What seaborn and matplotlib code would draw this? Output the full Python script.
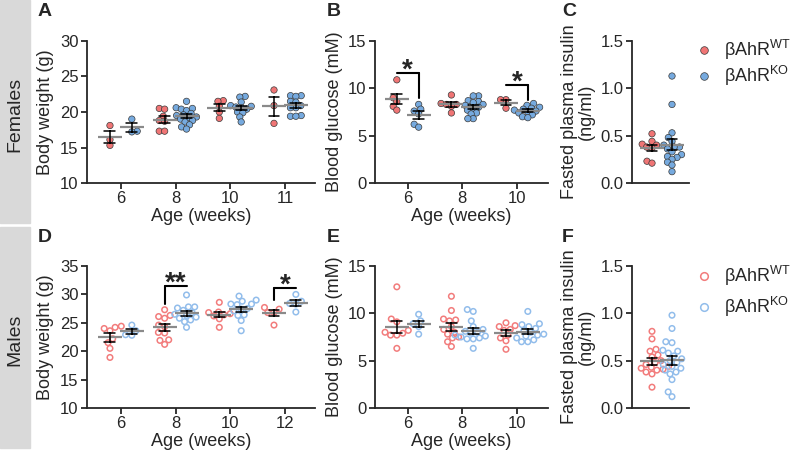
import pandas as pd
import matplotlib
matplotlib.use('Agg')
import matplotlib.pyplot as plt
import seaborn as sns
from matplotlib.lines import Line2D
from matplotlib.patches import Rectangle

# ---------------- data ----------------
fem_bw_weeks = ['6', '8', '10', '11']
fem_bw_wt = [[18.1, 16.1, 15.3],
             [20.5, 20.4, 19.4, 18.8, 18.7, 17.3, 17.3],
             [21.6, 21.5, 20.8, 20.0, 19.1],
             [23.1, 20.9, 18.4]]
fem_bw_ko = [[19.0, 17.3, 17.2],
             [21.5, 20.6, 20.5, 20.4, 20.2, 19.8, 19.6, 19.5, 19.3, 19.2, 19.0, 18.8, 18.6, 18.2, 17.9, 17.6],
             [22.2, 22.1, 21.4, 20.9, 20.8, 20.7, 20.6, 20.4, 20.0, 19.9, 19.3, 18.6],
             [22.3, 22.3, 22.2, 21.5, 21.4, 20.9, 20.6, 20.6, 19.5, 19.4, 19.4]]

fem_bg_weeks = ['6', '8', '10']
fem_bg_wt = [[10.9, 9.0, 8.6, 8.1, 7.7],
             [9.3, 8.4, 8.3, 8.3, 8.1, 7.4],
             [8.8, 8.8, 7.9]]
fem_bg_ko = [[8.3, 7.8, 7.6, 7.3, 6.2, 5.9],
             [9.2, 9.2, 8.7, 8.6, 8.5, 8.3, 8.2, 8.0, 7.9, 7.7, 7.4, 7.3, 6.8, 6.8],
             [8.4, 8.2, 8.0, 7.9, 7.8, 7.7, 7.6, 7.5, 7.4, 7.2, 7.0, 6.9]]

fem_ins_wt = [0.52, 0.44, 0.41, 0.40, 0.38, 0.37, 0.23, 0.21]
fem_ins_ko = [1.13, 0.83, 0.53, 0.48, 0.44, 0.40, 0.38, 0.38, 0.36, 0.33, 0.30,
              0.28, 0.27, 0.25, 0.22, 0.19, 0.12]

male_bw_weeks = ['6', '8', '10', '12']
male_bw_wt = [[24.4, 24.2, 24.0, 23.6, 22.2, 21.5, 20.5, 18.9],
              [27.3, 26.3, 26.1, 25.8, 24.6, 24.3, 23.3, 23.2, 22.0, 21.9, 21.2],
              [28.6, 26.9, 26.8, 26.6, 26.4, 26.2, 25.7, 24.2],
              [27.7, 27.4, 26.8, 26.8, 24.6]]
male_bw_ko = [[24.6, 23.6, 22.9, 22.8],
              [29.9, 27.8, 27.8, 27.6, 27.2, 26.8, 26.5, 26.3, 26.0, 25.8, 25.5, 25.2, 24.2],
              [29.7, 29.0, 28.8, 28.3, 28.3, 28.2, 27.5, 27.4, 27.1, 26.4, 26.3, 25.4, 23.6],
              [30.0, 28.8, 28.4, 28.3, 26.9]]

male_bg_weeks = ['6', '8', '10']
male_bg_wt = [[12.8, 9.4, 9.1, 8.2, 8.0, 7.9, 7.7, 7.7, 6.3],
              [11.8, 10.3, 9.4, 9.3, 9.2, 8.6, 8.3, 8.0, 7.8, 7.5, 7.4, 7.0, 6.5],
              [9.0, 8.7, 8.6, 8.3, 8.2, 7.7, 7.4, 7.1, 6.2]]
male_bg_ko = [[9.9, 9.2, 8.9, 8.6, 7.8],
              [10.4, 10.2, 9.2, 8.6, 8.3, 8.1, 8.0, 7.9, 7.7, 7.6, 7.5, 7.4, 7.3, 7.3, 6.3],
              [10.2, 8.9, 8.8, 8.6, 8.4, 8.2, 8.0, 7.8, 7.7, 7.6, 7.4, 7.2, 7.0, 7.0]]

male_ins_wt = [0.81, 0.73, 0.62, 0.60, 0.56, 0.54, 0.50, 0.48, 0.46, 0.44, 0.43,
               0.42, 0.41, 0.40, 0.38, 0.36, 0.22]
male_ins_ko = [0.98, 0.84, 0.70, 0.69, 0.61, 0.60, 0.58, 0.55, 0.52, 0.50, 0.48,
               0.46, 0.44, 0.42, 0.40, 0.38, 0.36, 0.30, 0.17, 0.12]

# significance brackets: (category index, bracket top, drop end, label, side of drop)
sig_fem_bg = [(0, 11.65, 8.97, '*', 'right'), (2, 10.35, 8.76, '*', 'right')]
sig_male_bw = [(1, 31.5, 28.3, '**', 'left'), (3, 31.2, 29.0, '*', 'left')]

geno_order = ['WT', 'KO']
fill_colors = ['#F07575', '#76AADF']
open_colors = ['#F27C7C', '#92BDEB']


def long_df(weeks, wt, ko):
    rows = []
    for wk, a, b in zip(weeks, wt, ko):
        rows += [(wk, 'WT', v) for v in a]
        rows += [(wk, 'KO', v) for v in b]
    return pd.DataFrame(rows, columns=['week', 'geno', 'value'])


sns.set_style('ticks')
plt.rcParams['font.family'] = ['Liberation Sans', 'DejaVu Sans']
plt.rcParams['mathtext.default'] = 'regular'
plt.rcParams['axes.linewidth'] = 1.3

W, H = 790, 451
fig = plt.figure(figsize=(W / 100, H / 100), dpi=100)
swarms = []  # (collection, hollow)


def add_ax(x0, y0, x1, y1):
    return fig.add_axes([x0 / W, 1 - y1 / H, (x1 - x0) / W, (y1 - y0) / H])


def draw(ax, df, order, colors, hollow, ylim, yticks, ylabel, xlim, xlabel=None, fmt=None):
    # swarm is packed with small markers; markers get enlarged after layout (GraphPad look)
    sns.swarmplot(data=df, x='week', y='value', hue='geno', order=order,
                  hue_order=geno_order, palette=colors, dodge=True, size=3.2,
                  linewidth=0.5, edgecolor='#3a3a3a', legend=False, ax=ax, zorder=2)
    for c in ax.collections:
        if hollow:
            fc = c.get_facecolors()
            c.set_edgecolors(fc)
            c.set_facecolors('none')
            c.set_linewidth(1.1)
        swarms.append((c, hollow))
    sns.pointplot(data=df, x='week', y='value', hue='geno', order=order,
                  hue_order=geno_order, palette=['#8a8a8a', '#8a8a8a'], dodge=0.4,
                  errorbar='se', capsize=0.2, marker='_', markersize=17,
                  markeredgewidth=1.6, linestyle='none',
                  err_kws={'color': 'black', 'linewidth': 1.1, 'linestyle': '-'},
                  legend=False, ax=ax, zorder=4)
    ax.set_ylim(*ylim)
    ax.set_yticks(yticks)
    if fmt:
        ax.set_yticklabels([fmt % t for t in yticks])
    ax.set_xlim(*xlim)
    ax.set_ylabel(ylabel, fontsize=13)
    ax.set_xlabel(xlabel if xlabel else '', fontsize=13, labelpad=1)
    ax.tick_params(labelsize=12, width=1.3, length=4, pad=2)
    if xlabel is None:
        ax.set_xticks([])
    sns.despine(ax=ax)


def brackets(ax, sig):
    for i, top, drop, lab, side in sig:
        ax.plot([i - 0.2, i + 0.2], [top, top], color='black', lw=1.5, zorder=5)
        xd = i + 0.2 if side == 'right' else i - 0.2
        ax.plot([xd, xd], [top, drop], color='black', lw=1.5, zorder=5)
        ax.annotate(lab, xy=(i, top), xytext=(0, -3.5), textcoords='offset points',
                    ha='center', va='baseline', fontsize=20, fontweight='bold')


# ---------------- females ----------------
ax_a = add_ax(87, 41, 315, 183)
draw(ax_a, long_df(fem_bw_weeks, fem_bw_wt, fem_bw_ko), fem_bw_weeks, fill_colors, False,
     (10, 30), [10, 15, 20, 25, 30], 'Body weight (g)', (-0.62, 3.55), 'Age (weeks)')

ax_b = add_ax(375, 41, 548, 183)
draw(ax_b, long_df(fem_bg_weeks, fem_bg_wt, fem_bg_ko), fem_bg_weeks, fill_colors, False,
     (0, 15), [0, 5, 10, 15], 'Blood glucose (mM)', (-0.6, 2.57), 'Age (weeks)')
brackets(ax_b, sig_fem_bg)

ax_c = add_ax(632, 41, 689, 183)
draw(ax_c, long_df(['all'], [fem_ins_wt], [fem_ins_ko]), ['all'], fill_colors, False,
     (0, 1.5), [0, 0.5, 1.0, 1.5], 'Fasted plasma insulin\n(ng/ml)', (-0.6, 0.54), fmt='%.1f')

# ---------------- males ----------------
ax_d = add_ax(87, 266, 315, 408)
draw(ax_d, long_df(male_bw_weeks, male_bw_wt, male_bw_ko), male_bw_weeks, open_colors, True,
     (10, 35), [10, 15, 20, 25, 30, 35], 'Body weight (g)', (-0.62, 3.55), 'Age (weeks)')
brackets(ax_d, sig_male_bw)

ax_e = add_ax(375, 266, 548, 408)
draw(ax_e, long_df(male_bg_weeks, male_bg_wt, male_bg_ko), male_bg_weeks, open_colors, True,
     (0, 15), [0, 5, 10, 15], 'Blood glucose (mM)', (-0.6, 2.57), 'Age (weeks)')

ax_f = add_ax(632, 266, 689, 408)
draw(ax_f, long_df(['all'], [male_ins_wt], [male_ins_ko]), ['all'], open_colors, True,
     (0, 1.5), [0, 0.5, 1.0, 1.5], 'Fasted plasma insulin\n(ng/ml)', (-0.6, 0.54), fmt='%.1f')

for ax in [ax_c, ax_f]:
    ax.yaxis.label.set_linespacing(1.0)

# legends
labels = ['βAhR$^{WT}$', 'βAhR$^{KO}$']
h_fill = [Line2D([], [], ls='none', marker='o', ms=5.5, mfc=c, mec='#3a3a3a', mew=0.5)
          for c in fill_colors]
h_open = [Line2D([], [], ls='none', marker='o', ms=5.5, mfc='none', mec=c, mew=1.1)
          for c in open_colors]
for hs, ytop, sp in [(h_fill, 38, 0.1), (h_open, 264, 0.4)]:
    fig.legend(hs, labels, loc='upper left', bbox_to_anchor=(695 / W, 1 - ytop / H),
               bbox_transform=fig.transFigure, frameon=False, fontsize=13,
               handlelength=1.0, handletextpad=0.6, labelspacing=sp,
               borderaxespad=0, borderpad=0)

# side bands and panel letters
fig.add_artist(Rectangle((0, 1 - 222.7 / H), 30 / W, 222.7 / H, transform=fig.transFigure,
                         color='#d9d9d9', zorder=0))
fig.add_artist(Rectangle((0, 1 - 448 / H), 30 / W, 221 / H, transform=fig.transFigure,
                         color='#d9d9d9', zorder=0))
fig.text(15 / W, 1 - 114 / H, 'Females', rotation=90, ha='center', va='center', fontsize=14)
fig.text(15 / W, 1 - 340 / H, 'Males', rotation=90, ha='center', va='center', fontsize=14)

for lab, x, y in [('A', 38, 12), ('B', 327, 12), ('C', 562, 12),
                  ('D', 38, 237), ('E', 327, 237), ('F', 562, 237)]:
    fig.text(x / W, 1 - y / H, lab, fontsize=14, fontweight='bold', ha='left', va='center')

# lay out the swarms once, then freeze positions and enlarge the dots
fig.canvas.draw()
for c, hollow in swarms:
    if 'draw' in c.__dict__:
        del c.draw
    c.set_sizes([(4.0 if hollow else 4.6) ** 2])

fig.savefig('out.png', dpi=100)
